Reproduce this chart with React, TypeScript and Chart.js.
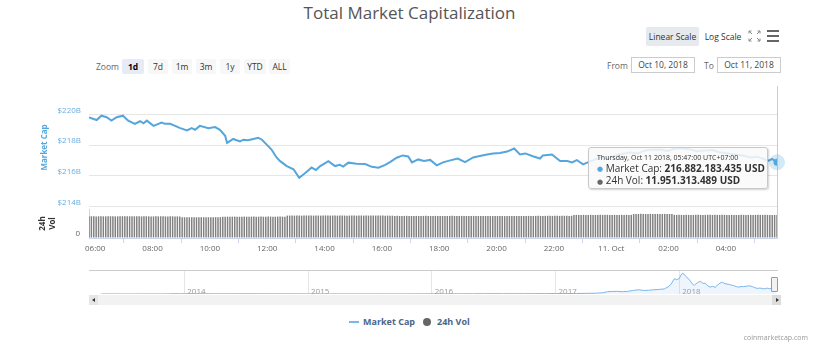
import React, { useEffect, useRef } from 'react';
import { Chart, registerables } from 'chart.js';
Chart.register(...registerables);

const FONT = "'Open Sans', 'DejaVu Sans', sans-serif";
const TITLE = 'Total Market Capitalization';
const ZOOM_BUTTONS = ['1d', '7d', '1m', '3m', '1y', 'YTD', 'ALL'];
const SELECTED_ZOOM = '1d';
const DATE_FROM = 'Oct 10, 2018';
const DATE_TO = 'Oct 11, 2018';

// Market cap: minutes since 06:00 Oct 10 (UTC+7), value in billions USD
const CAP_MINUTES = [
  -13, 3, 13, 24, 34, 45, 58, 69, 83, 94, 101, 108, 122, 139, 146, 157, 178, 192, 202, 209,
  219, 237, 251, 261, 272, 276, 289, 303, 310, 320, 331, 341, 349, 359, 369, 380, 387, 401, 415, 427,
  439, 453, 462, 471, 488, 502, 512, 519, 530, 547, 565, 579, 593, 607, 617, 631, 644, 655, 663, 676,
  688, 701, 715, 728, 743, 759, 774, 791, 805, 820, 833, 847, 862, 877, 889, 900, 916, 931, 937, 956,
  973, 988, 998, 1008, 1021, 1031, 1057, 1070, 1088, 1100, 1119, 1135, 1151, 1165, 1182, 1198, 1214, 1230, 1245, 1260,
  1277, 1292, 1308, 1325, 1339, 1355, 1371, 1385, 1396, 1408, 1417, 1427,
];
const CAP_VALUES = [
  219.79, 219.63, 219.91, 219.81, 219.59, 219.81, 219.91, 219.59, 219.38, 219.55, 219.42, 219.59, 219.25, 219.46, 219.38, 219.38, 219.10, 218.95, 219.10, 218.99,
  219.25, 219.10, 219.17, 218.99, 218.61, 218.14, 218.40, 218.24, 218.35, 218.31, 218.40, 218.48, 218.35, 218.03, 217.71, 217.18, 216.96, 216.64, 216.43, 215.87,
  216.17, 216.54, 216.38, 216.64, 216.96, 216.64, 216.72, 216.60, 216.86, 216.79, 216.77, 216.59, 216.53, 216.71, 216.90, 217.18, 217.33, 217.26, 216.88, 217.07,
  216.97, 217.04, 216.69, 216.88, 217.01, 217.13, 216.90, 217.20, 217.29, 217.39, 217.46, 217.49, 217.58, 217.78, 217.39, 217.46, 217.28, 217.13, 217.33, 217.39,
  216.96, 216.96, 216.88, 217.03, 216.75, 216.88, 217.20, 217.12, 217.33, 217.40, 217.52, 217.45, 217.65, 217.70, 217.71, 217.62, 217.78, 217.80, 217.71, 217.60,
  217.65, 217.68, 217.52, 217.45, 217.39, 217.33, 217.20, 217.25, 217.13, 216.97, 217.10, 216.88,
];
const CAP_TICKS = [214, 216, 218, 220];

// 24h volume bars, one every 5 minutes, in billions USD
const VOL_START_MIN = -13;
const VOL_STEP_MIN = 5;
const VOL_VALUES = [
  11.22, 11.25, 11.2, 11.18, 11.24, 11.27, 11.21, 11.19, 11.23, 11.26, 11.2, 11.17, 11.22, 11.25, 11.28, 11.21, 11.19, 11.24, 11.2, 11.22,
  11.26, 11.23, 11.18, 11.21, 11.25, 11.2, 11.16, 11.19, 11.23, 11.2, 11.24, 11.21, 11.18, 11.15, 11.2, 11.22, 11.17, 11.19, 11.14,
  10.78, 10.74, 10.76, 10.72, 10.75, 10.79, 10.73, 10.7, 10.76, 10.74, 10.77, 10.72, 10.75, 10.78, 10.8, 10.76, 10.82,
  10.98, 11.02, 11.05, 11.01, 11.04, 11.07, 11.03, 11.0, 11.05, 11.08, 11.04, 11.02, 11.06, 11.09, 11.05, 11.03, 11.07, 11.04, 11.01, 11.06,
  11.08, 11.05, 11.03, 11.07, 11.1, 11.06, 11.04,
  11.58, 11.62, 11.6, 11.57, 11.63, 11.6, 11.56, 11.61, 11.64, 11.59, 11.62, 11.58, 11.6, 11.63, 11.57, 11.61, 11.65, 11.6, 11.58, 11.62,
  11.59, 11.56, 11.6, 11.63, 11.61, 11.57, 11.6, 11.62, 11.58, 11.55, 11.6, 11.63, 11.59, 11.61, 11.57, 11.6, 11.64, 11.6, 11.58, 11.62,
  11.59, 11.56, 11.6, 11.57, 11.55,
  11.42, 11.45, 11.4, 11.38, 11.43, 11.46, 11.41, 11.39, 11.44, 11.42, 11.4, 11.37, 11.43, 11.45, 11.41, 11.38, 11.42, 11.44, 11.4, 11.36,
  11.41, 11.43, 11.39, 11.42, 11.45, 11.4, 11.38, 11.41, 11.44, 11.42, 11.39, 11.36, 11.4, 11.43, 11.41, 11.38, 11.35, 11.39, 11.42, 11.4,
  11.37, 11.34, 11.38, 11.41, 11.39, 11.36, 11.33, 11.37, 11.4, 11.38, 11.35, 11.39, 11.42, 11.4, 11.37, 11.41, 11.44, 11.42, 11.39, 11.43,
  11.46, 11.44, 11.41, 11.45, 11.48, 11.46, 11.43, 11.47, 11.45, 11.42, 11.46, 11.49, 11.47, 11.44, 11.48,
  11.93, 11.97, 11.95, 11.92, 11.98, 11.96, 11.93, 11.99, 11.95, 11.91, 11.96, 11.98, 11.94, 11.97, 12.0, 11.96, 11.93, 11.97, 11.95, 11.92,
  11.98, 11.96, 11.99, 11.95, 11.97,
  12.42, 12.46, 12.44, 12.48, 12.45, 12.41, 12.47, 12.5, 12.46, 12.43, 12.48, 12.45, 12.42, 12.46, 12.44, 12.4, 12.38,
  11.98, 11.96, 12.0, 11.97, 11.94, 11.99, 11.96, 11.93, 11.97, 12.0, 11.98, 11.95, 11.92, 11.96, 11.99, 11.97, 11.94, 11.98, 11.95, 11.93,
  11.97, 12.0, 11.96, 11.94, 11.98, 11.95, 11.92, 11.96, 11.99, 11.97, 11.94, 11.97, 11.95, 11.92, 11.96, 11.98, 11.95, 11.93, 11.97, 11.94,
  11.96, 11.93, 11.95, 11.95,
];

const X_TICK_MINUTES = [0, 120, 240, 360, 480, 600, 720, 840, 960, 1080, 1200, 1320];
const X_TICK_LABELS = ['06:00', '08:00', '10:00', '12:00', '14:00', '16:00', '18:00', '20:00', '22:00', '11. Oct', '02:00', '04:00'];

// Navigator: decimal year, total market cap in billions USD
const NAV_X = [
  2013.33, 2013.42, 2013.5, 2013.58, 2013.67, 2013.75, 2013.83, 2013.88, 2013.92, 2013.96,
  2014.0, 2014.08, 2014.17, 2014.25, 2014.33, 2014.42, 2014.5, 2014.58, 2014.67, 2014.75, 2014.83, 2014.92,
  2015.0, 2015.08, 2015.17, 2015.25, 2015.33, 2015.42, 2015.5, 2015.58, 2015.67, 2015.75, 2015.83, 2015.92,
  2016.0, 2016.08, 2016.17, 2016.25, 2016.33, 2016.42, 2016.5, 2016.58, 2016.67, 2016.75, 2016.83, 2016.92,
  2017.0, 2017.08, 2017.17, 2017.25, 2017.33, 2017.38, 2017.42, 2017.46, 2017.5, 2017.54, 2017.58, 2017.63,
  2017.67, 2017.71, 2017.75, 2017.79, 2017.83, 2017.88, 2017.92, 2017.94, 2017.96, 2017.98,
  2018.0, 2018.02, 2018.03, 2018.05, 2018.07, 2018.09, 2018.1, 2018.12, 2018.13, 2018.15, 2018.17, 2018.19,
  2018.21, 2018.23, 2018.25, 2018.27, 2018.29, 2018.31, 2018.33, 2018.35, 2018.37, 2018.4, 2018.42, 2018.44,
  2018.46, 2018.48, 2018.5, 2018.52, 2018.55, 2018.57, 2018.59, 2018.61, 2018.63, 2018.65, 2018.67, 2018.69,
  2018.71, 2018.73, 2018.75, 2018.78,
];
const NAV_VALUES = [
  1.5, 1.3, 1.0, 1.2, 1.5, 1.8, 2.5, 6, 13, 9,
  10, 11, 8, 6.5, 5.5, 7.5, 8.3, 7.8, 6.5, 5.2, 5.0, 5.3,
  4.3, 3.2, 3.6, 3.4, 3.2, 3.3, 3.6, 4.2, 3.5, 3.5, 4.5, 5.8,
  6.7, 6.4, 7.3, 7.5, 8.3, 10.2, 11.5, 10.3, 10.1, 10.5, 11.5, 12.5,
  17.7, 17, 20, 25, 32, 45, 90, 100, 105, 90, 100, 140,
  165, 140, 145, 165, 175, 200, 310, 430, 600, 560,
  610, 790, 820, 700, 620, 510, 430, 330, 380, 450, 500, 420,
  420, 320, 270, 300, 260, 350, 430, 460, 400, 380, 350, 330,
  290, 270, 290, 290, 310, 320, 290, 250, 220, 230, 220, 200,
  230, 210, 220, 217,
];
const NAV_YEAR_TICKS = [2014, 2015, 2016, 2017, 2018];

const LINE_COLOR = '#55a6dd';

const noPad = (s: any) => {
  s.paddingTop = 0;
  s.paddingBottom = 0;
  s.paddingLeft = 0;
  s.paddingRight = 0;
};

function mainConfig(): any {
  const last = CAP_VALUES.length - 1;
  const hoverPlugin = {
    id: 'hoverMarks',
    beforeDatasetsDraw(chart: any) {
      const { ctx, chartArea, scales } = chart;
      const x = Math.round(scales.x.getPixelForValue(CAP_MINUTES[last])) + 0.5;
      ctx.save();
      ctx.strokeStyle = '#cccccc';
      ctx.lineWidth = 1;
      ctx.beginPath();
      ctx.moveTo(x, chartArea.top);
      ctx.lineTo(x, chartArea.bottom);
      ctx.stroke();
      ctx.restore();
    },
    afterDatasetsDraw(chart: any) {
      const { ctx, scales } = chart;
      const x = scales.x.getPixelForValue(CAP_MINUTES[last]);
      const y = scales.y.getPixelForValue(CAP_VALUES[last]);
      ctx.save();
      ctx.fillStyle = 'rgba(85,166,221,0.25)';
      ctx.beginPath();
      ctx.arc(x, y, 8, 0, Math.PI * 2);
      ctx.fill();
      ctx.restore();
    },
  };
  return {
    type: 'line',
    data: {
      datasets: [
        {
          type: 'line',
          label: 'Market Cap',
          data: CAP_MINUTES.map((m, i) => ({ x: m, y: CAP_VALUES[i] })),
          xAxisID: 'x',
          yAxisID: 'y',
          borderColor: LINE_COLOR,
          borderWidth: 2,
          tension: 0,
          pointRadius: (c: any) => (c.dataIndex === last ? 3.5 : 0),
          pointBackgroundColor: LINE_COLOR,
          pointBorderWidth: 0,
        },
        {
          type: 'bar',
          label: '24h Vol',
          data: VOL_VALUES.map((v, i) => ({ x: VOL_START_MIN + i * VOL_STEP_MIN, y: v })),
          xAxisID: 'x',
          yAxisID: 'yv',
          backgroundColor: '#808080',
          barPercentage: 0.62,
          categoryPercentage: 1,
        },
      ],
    },
    options: {
      animation: false,
      responsive: false,
      maintainAspectRatio: false,
      events: [],
      layout: { padding: { left: 0, right: 42, top: 6, bottom: 0 } },
      plugins: { legend: { display: false }, tooltip: { enabled: false } },
      scales: {
        x: {
          type: 'linear',
          offset: false,
          min: -13,
          max: 1427,
          afterBuildTicks: (s: any) => {
            s.ticks = X_TICK_MINUTES.map((v) => ({ value: v }));
          },
          ticks: {
            callback: (v: any) => {
              const i = X_TICK_MINUTES.indexOf(v);
              return i >= 0 ? X_TICK_LABELS[i] : '';
            },
            color: '#666',
            font: { size: 8 },
            padding: 1,
            maxRotation: 0,
            autoSkip: false,
          },
          grid: { drawOnChartArea: false, drawTicks: true, tickLength: 5, color: '#ccd6eb' },
          border: { color: '#ccd6eb' },
          afterFit: (s: any) => {
            s.height = 22;
            noPad(s);
          },
        },
        yv: {
          position: 'left',
          stack: 'panes',
          stackWeight: 29,
          min: 0,
          max: 15,
          afterBuildTicks: (s: any) => {
            s.ticks = [{ value: 0 }];
          },
          ticks: {
            callback: (v: any) => String(v),
            color: '#666',
            font: { size: 8 },
            padding: 9,
            labelOffset: -4,
          },
          grid: { drawOnChartArea: false, drawTicks: false },
          border: { display: true, color: '#ccd6eb' },
          title: {
            display: true,
            text: ['24h', 'Vol'],
            color: '#333',
            font: { size: 8, weight: 'bold' },
            padding: { top: 38, bottom: 0 },
          },
          afterFit: (s: any) => {
            s.width = 89;
            noPad(s);
          },
        },
        y: {
          position: 'left',
          stack: 'panes',
          stackWeight: 123,
          min: 213.85,
          max: 221.84,
          afterBuildTicks: (s: any) => {
            s.ticks = CAP_TICKS.map((v) => ({ value: v }));
          },
          ticks: {
            callback: (v: any) => '$' + v + 'B',
            color: '#6aaee0',
            font: { size: 8 },
            padding: 8,
            labelOffset: -4,
          },
          grid: { color: '#e6e6e6', drawTicks: false },
          border: { display: false },
          title: {
            display: true,
            text: 'Market Cap',
            color: '#55a6dd',
            font: { size: 8, weight: 'bold' },
            padding: { top: 40, bottom: 0 },
          },
          afterFit: (s: any) => {
            s.width = 89;
            noPad(s);
          },
        },
      },
    },
    plugins: [hoverPlugin],
  };
}

function navConfig(): any {
  return {
    type: 'line',
    data: {
      datasets: [
        {
          data: NAV_X.map((x, i) => ({ x, y: NAV_VALUES[i] })),
          borderColor: '#7cb5ec',
          borderWidth: 1,
          pointRadius: 0,
          tension: 0,
          fill: 'origin',
          backgroundColor: 'rgba(124,181,236,0.13)',
        },
      ],
    },
    options: {
      animation: false,
      responsive: false,
      maintainAspectRatio: false,
      events: [],
      layout: { padding: { left: 89, right: 42, top: 8, bottom: 2 } },
      plugins: { legend: { display: false }, tooltip: { enabled: false } },
      scales: {
        y: { display: false, min: 0, max: 940 },
        x: {
          type: 'linear',
          position: { y: 270 },
          min: 2013.23,
          max: 2018.79,
          afterBuildTicks: (s: any) => {
            s.ticks = NAV_YEAR_TICKS.map((v) => ({ value: v }));
          },
          ticks: {
            callback: (v: any) => String(v),
            align: 'start',
            labelOffset: 3,
            padding: 0,
            color: '#999',
            font: { size: 8 },
            maxRotation: 0,
            autoSkip: false,
          },
          grid: { color: '#e6e6e6', drawTicks: false },
          border: { display: false },
        },
        xt: {
          type: 'linear',
          position: 'top',
          min: 2013.23,
          max: 2018.79,
          ticks: { display: false },
          grid: { drawOnChartArea: false, drawTicks: false },
          border: { color: '#cccccc' },
          afterFit: (s: any) => {
            s.height = 0;
            noPad(s);
          },
        },
      },
    },
  };
}

const abs = (o: any): any => ({ position: 'absolute', ...o });

export default function App() {
  const mainRef = useRef<HTMLCanvasElement>(null);
  const navRef = useRef<HTMLCanvasElement>(null);
  useEffect(() => {
    Chart.defaults.font.family = FONT;
    const main = new Chart(mainRef.current as HTMLCanvasElement, mainConfig());
    const nav = new Chart(navRef.current as HTMLCanvasElement, navConfig());
    return () => {
      main.destroy();
      nav.destroy();
    };
  }, []);

  const btnLeft = [122, 148, 172, 196, 220, 244, 269];
  const btnWidth = [22, 20, 20, 20, 20, 22, 21];

  return (
    <div style={abs({ left: 0, top: 0, width: 819, height: 355, background: '#fff', overflow: 'hidden', fontFamily: FONT })}>
      <div style={abs({ left: 0, top: 1, width: 819, textAlign: 'center', fontSize: 17, color: '#555', lineHeight: '24px' })}>{TITLE}</div>

      <div style={abs({ left: 96, top: 59, fontSize: 8.5, color: '#666', lineHeight: '15px' })}>Zoom</div>
      {ZOOM_BUTTONS.map((b, i) => (
        <div
          key={b}
          style={abs({
            left: btnLeft[i],
            top: 59,
            width: btnWidth[i],
            height: 15,
            lineHeight: '15px',
            textAlign: 'center',
            fontSize: 8.5,
            background: b === SELECTED_ZOOM ? '#e6ebf5' : '#f7f7f7',
            color: b === SELECTED_ZOOM ? '#000' : '#333',
            fontWeight: b === SELECTED_ZOOM ? 700 : 400,
            borderRadius: 2,
          })}
        >
          {b}
        </div>
      ))}

      <div style={abs({ left: 646, top: 27, width: 53, height: 19, lineHeight: '19px', textAlign: 'center', fontSize: 8.5, color: '#333', background: '#e6e9ed', borderRadius: 2 })}>Linear Scale</div>
      <div style={abs({ left: 703, top: 27, width: 40, height: 19, lineHeight: '19px', textAlign: 'center', fontSize: 8.5, color: '#333' })}>Log Scale</div>
      <svg style={abs({ left: 748, top: 30 })} width={13} height={12}>
        <g stroke="#888" strokeWidth={1} fill="none">
          <path d="M1 1 L4 4 M1 1 L1 3.5 M1 1 L3.5 1" />
          <path d="M12 1 L9 4 M12 1 L12 3.5 M12 1 L9.5 1" />
          <path d="M1 11 L4 8 M1 11 L1 8.5 M1 11 L3.5 11" />
          <path d="M12 11 L9 8 M12 11 L12 8.5 M12 11 L9.5 11" />
        </g>
      </svg>
      <div style={abs({ left: 767, top: 30, width: 12, height: 2, background: '#666' })} />
      <div style={abs({ left: 767, top: 35, width: 12, height: 2, background: '#666' })} />
      <div style={abs({ left: 767, top: 40, width: 12, height: 2, background: '#666' })} />

      <div style={abs({ left: 607, top: 58, fontSize: 8.5, color: '#666', lineHeight: '15px' })}>From</div>
      <div style={abs({ left: 631, top: 57, width: 64, height: 16, boxSizing: 'border-box', border: '1px solid #ccc', fontSize: 8.5, color: '#444', textAlign: 'center', lineHeight: '14px' })}>{DATE_FROM}</div>
      <div style={abs({ left: 704, top: 58, fontSize: 8.5, color: '#666', lineHeight: '15px' })}>To</div>
      <div style={abs({ left: 717, top: 57, width: 64, height: 16, boxSizing: 'border-box', border: '1px solid #ccc', fontSize: 8.5, color: '#444', textAlign: 'center', lineHeight: '14px' })}>{DATE_TO}</div>

      <canvas ref={mainRef} width={819} height={180} style={abs({ left: 0, top: 80, width: 819, height: 180 })} />
      <canvas ref={navRef} width={819} height={34} style={abs({ left: 0, top: 262, width: 819, height: 34 })} />

      {/* navigator handle */}
      <div style={abs({ left: 771, top: 277, width: 5, height: 13, background: '#f2f2f2', border: '1px solid #999', borderRadius: 1 })} />

      {/* scrollbar */}
      <div style={abs({ left: 89, top: 295, width: 692, height: 10, background: '#f2f2f2' })} />
      <div style={abs({ left: 89, top: 295, width: 9, height: 10, background: '#e6e6e6' })} />
      <div style={abs({ left: 92, top: 298, width: 0, height: 0, borderTop: '2px solid transparent', borderBottom: '2px solid transparent', borderRight: '3px solid #333' })} />
      <div style={abs({ left: 772, top: 295, width: 9, height: 10, background: '#dcdcdc' })} />
      <div style={abs({ left: 776, top: 298, width: 0, height: 0, borderTop: '2px solid transparent', borderBottom: '2px solid transparent', borderLeft: '3px solid #333' })} />

      {/* tooltip */}
      <div
        style={abs({
          left: 588,
          top: 147,
          width: 180,
          height: 42,
          boxSizing: 'border-box',
          background: 'rgba(249,249,249,0.86)',
          border: '1px solid #c8c8c8',
          borderRadius: 3,
          boxShadow: '1px 1px 2px rgba(0,0,0,0.18)',
          padding: '5px 0 0 8px',
          color: '#333',
          whiteSpace: 'nowrap',
        })}
      >
        <div style={{ fontSize: 7, lineHeight: '9px' }}>Thursday, Oct 11 2018, 05:47:00 UTC+07:00</div>
        <div style={{ fontSize: 10, lineHeight: '12px' }}>
          <span style={{ color: LINE_COLOR, fontSize: 7, verticalAlign: 'middle' }}>●</span> Market Cap: <b>216.882.183.435 USD</b>
        </div>
        <div style={{ fontSize: 10, lineHeight: '11px' }}>
          <span style={{ color: '#666', fontSize: 7, verticalAlign: 'middle' }}>●</span> 24h Vol: <b>11.951.313.489 USD</b>
        </div>
      </div>

      {/* legend */}
      <div style={abs({ left: 349, top: 321, width: 10, height: 2, background: '#7cb5ec' })} />
      <div style={abs({ left: 363, top: 315, fontSize: 9, fontWeight: 700, color: '#4a6688', lineHeight: '14px' })}>Market Cap</div>
      <div style={abs({ left: 423, top: 318, width: 8, height: 8, borderRadius: 4, background: '#666' })} />
      <div style={abs({ left: 437, top: 315, fontSize: 9, fontWeight: 700, color: '#4a6688', lineHeight: '14px' })}>24h Vol</div>

      <div style={abs({ right: 11, top: 333, fontSize: 7, color: '#999', lineHeight: '10px' })}>coinmarketcap.com</div>
    </div>
  );
}
